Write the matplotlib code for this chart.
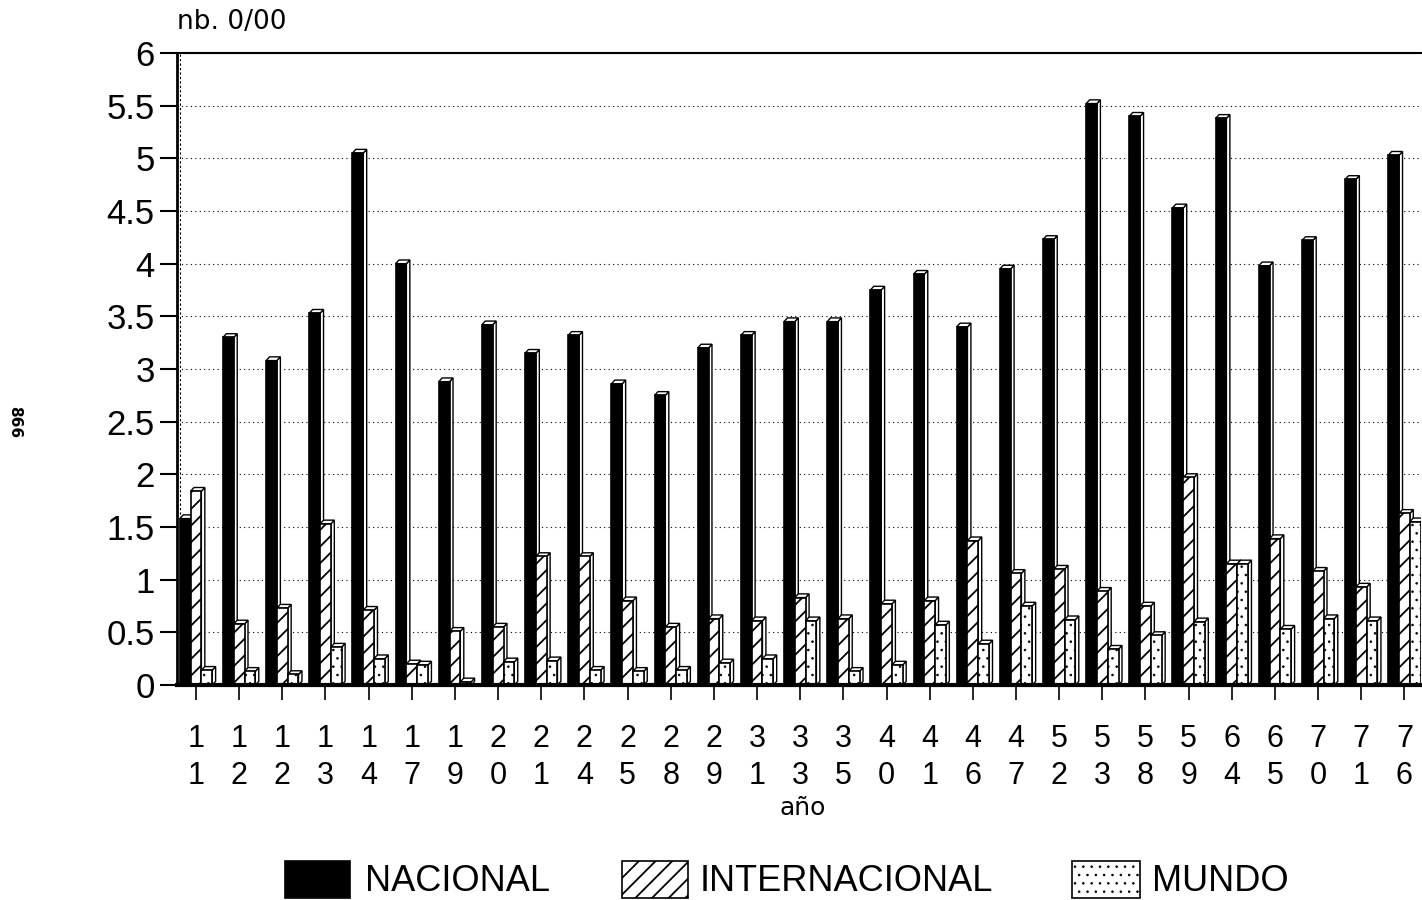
import matplotlib
matplotlib.use("Agg")
import matplotlib.pyplot as plt
from matplotlib.patches import Rectangle, Polygon
from matplotlib.ticker import MultipleLocator, FuncFormatter

# ---- data ----
years = ["11", "12", "12", "13", "14", "17", "19", "20", "21", "24", "25", "28", "29",
         "31", "33", "35", "40", "41", "46", "47", "52", "53", "58", "59", "64", "65",
         "70", "71", "76"]
nacional = [1.58, 3.30, 3.08, 3.53, 5.05, 4.00, 2.88, 3.42, 3.15, 3.32, 2.86, 2.75, 3.20,
            3.32, 3.45, 3.45, 3.75, 3.90, 3.40, 3.95, 4.23, 5.52, 5.40, 4.53, 5.38, 3.98,
            4.22, 4.80, 5.03]
internacional = [1.84, 0.58, 0.73, 1.53, 0.71, 0.20, 0.51, 0.55, 1.22, 1.22, 0.80, 0.55, 0.63,
                 0.61, 0.83, 0.63, 0.77, 0.80, 1.37, 1.06, 1.10, 0.89, 0.75, 1.97, 1.15, 1.39,
                 1.08, 0.93, 1.63]
mundo = [0.14, 0.13, 0.10, 0.36, 0.25, 0.19, 0.03, 0.22, 0.23, 0.14, 0.13, 0.14, 0.21,
         0.25, 0.61, 0.13, 0.19, 0.57, 0.39, 0.75, 0.62, 0.34, 0.47, 0.60, 1.15, 0.53,
         0.63, 0.61, 1.55]
series_names = ["NACIONAL", "INTERNACIONAL", "MUNDO"]

FONT = ["Liberation Sans", "DejaVu Sans"]
plt.rcParams['font.family'] = FONT

fig = plt.figure(figsize=(14.22, 9), dpi=100)
ax = fig.add_axes([177/1422, 1-685/900, 1-177/1422 - 0.0005, (685-53)/900])

n = len(years)
w = 0.25
offsets = [-0.25, 0.0, 0.25]
dx = 0.08
dy = 0.035
styles = [dict(facecolor="black", hatch=None, hlw=1.0),
          dict(facecolor="white", hatch="//", hlw=1.3),
          dict(facecolor="white", hatch="..", hlw=0.6)]
series = [nacional, internacional, mundo]

for i in range(n):
    for k, (vals, st) in enumerate(zip(series, styles)):
        h = vals[i]
        x0 = i + offsets[k] - w/2
        x1 = x0 + w
        z = 3 + i*10 + k*3
        side = Polygon([(x1, 0), (x1+dx, dy), (x1+dx, h+dy), (x1, h)], closed=True,
                       facecolor="white", edgecolor="black", lw=1.0, zorder=z)
        top = Polygon([(x0, h), (x0+dx, h+dy), (x1+dx, h+dy), (x1, h)], closed=True,
                      facecolor="white", edgecolor="black", lw=1.0, zorder=z)
        ax.add_patch(side)
        ax.add_patch(top)
        with plt.rc_context({'hatch.linewidth': st["hlw"]}):
            ax.bar(x0 + w/2, h, width=w, facecolor=st["facecolor"], edgecolor="black",
                   hatch=st["hatch"], lw=1.2, zorder=z+1)

ax.set_xlim(-0.44, 28.39)
ax.set_ylim(0, 6)
ax.yaxis.set_major_locator(MultipleLocator(0.5))
ax.yaxis.set_major_formatter(FuncFormatter(lambda v, p: "%g" % v))
ax.grid(axis="y", linestyle=(0, (1, 3)), color="black", lw=0.8, zorder=1)
ax.set_axisbelow(True)

ax.set_xticks(range(n))
ax.set_xticklabels([y[0] + "\n" + y[1] for y in years], fontsize=22, linespacing=1.3)
for lab in ax.get_yticklabels():
    lab.set_fontsize(25)
ax.tick_params(axis="x", direction="out", length=11, width=1.2, pad=17)
ax.tick_params(axis="y", direction="out", length=12, width=1.5, pad=4)

ax.spines["right"].set_visible(False)
ax.spines["top"].set_linewidth(1.5)
ax.spines["left"].set_linewidth(2.0)
ax.spines["bottom"].set_linewidth(3.0)
ax.spines["bottom"].set_zorder(1000)

ax.plot([-0.44 + 0.08, -0.44 + 0.08], [0.02, 6], color="black", lw=0.8, ls=(0, (2, 2)), zorder=2)

fig.text(177/1422, 1-22/900, "nb. 0/00", fontsize=19, va="center", ha="left",
         family=["DejaVu Sans"])
fig.text(803/1422, 1-808/900, "año", fontsize=18, va="center", ha="center",
         family=["DejaVu Sans"])
fig.text(15/1422, 1-422/900, "866", fontsize=11, rotation=-90, va="center", ha="center",
         fontweight="bold", family=["DejaVu Sans"])

# legend
leg_boxes = [(285, 65, "black", None, 1.0), (622, 66, "white", "//", 1.3),
             (1072, 68, "white", "..", 0.6)]
leg_text_x = [365, 700, 1152]
for (x, wd, fc, hat, hlw), tx, name in zip(leg_boxes, leg_text_x, series_names):
    with plt.rc_context({'hatch.linewidth': hlw}):
        r = Rectangle((x/1422, 1-898/900), wd/1422, 37/900, transform=fig.transFigure,
                      facecolor=fc, edgecolor="black", hatch=hat, lw=1.2)
    fig.add_artist(r)
    fig.text(tx/1422, 1/900, name, fontsize=26, va="bottom", ha="left")

fig.savefig("out.png", dpi=100)
